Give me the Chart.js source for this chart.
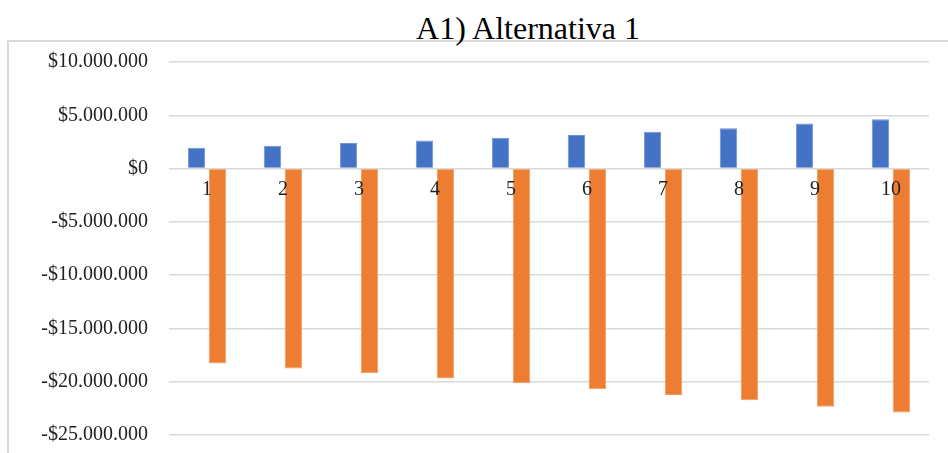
<!DOCTYPE html>
<html>
<head>
<meta charset="utf-8">
<script src="https://cdn.jsdelivr.net/npm/chart.js@4.4.1/dist/chart.umd.min.js"></script>
<style>
  body { margin: 0; background: #fff; overflow: hidden; width: 948px; height: 453px; position: relative; }
  #title {
    position: absolute; left: 0; top: 10px; width: 1056px;
    text-align: center; font: 32px "Liberation Serif", serif; color: #000;
  }
  #box {
    position: absolute; left: 7px; top: 40px; width: 1000px; height: 500px;
    border: 2px solid #d9d9d9;
  }
  #wrap { position: absolute; left: 0; top: 0; width: 948px; height: 468px; }
  canvas { display: block; }
</style>
</head>
<body>
<div id="box"></div>
<div id="title">A1) Alternativa 1</div>
<div id="wrap"><canvas id="chart"></canvas></div>
<script>
// Data
const periods = ['1', '2', '3', '4', '5', '6', '7', '8', '9', '10'];
const incomeValues = [1960000, 2140000, 2390000, 2640000, 2890000, 3140000, 3450000, 3790000, 4220000, 4630000];
const costValues = [-18300000, -18750000, -19200000, -19700000, -20150000, -20700000, -21250000, -21750000, -22350000, -22900000];
const yTicks = [10000000, 5000000, 0, -5000000, -10000000, -15000000, -20000000, -25000000];

const tickFont = { family: "'Liberation Serif', serif", size: 20 };

function formatMoney(v) {
    const s = Math.abs(v).toString().replace(/\B(?=(\d{3})+(?!\d))/g, '.');
    return (v < 0 ? '-$' : '$') + s;
}

const ctx = document.getElementById('chart').getContext('2d');
new Chart(ctx, {
    type: 'bar',
    data: {
        labels: periods,
        datasets: [
            { data: incomeValues, backgroundColor: '#4472c4', borderColor: '#6f93d6', borderWidth: 1,
              categoryPercentage: 0.553, barPercentage: 0.83 },
            { data: costValues, backgroundColor: '#ed7d31', borderColor: '#f29c63', borderWidth: 1,
              categoryPercentage: 0.553, barPercentage: 0.83 }
        ]
    },
    options: {
        responsive: true,
        maintainAspectRatio: false,
        animation: false,
        layout: { padding: { left: 0, right: 19, top: 62, bottom: 18 } },
        plugins: { legend: { display: false }, tooltip: { enabled: false } },
        scales: {
            x: {
                position: { y: 0 },
                grid: { display: false, drawTicks: false },
                border: { display: false },
                // z: 1 so the labels sit on top of the orange bars
                ticks: { color: '#222', font: tickFont, padding: 9, maxRotation: 0, z: 1 }
            },
            y: {
                min: -25000000,
                max: 10000000,
                afterBuildTicks: s => { s.ticks = yTicks.map(v => ({ value: v })); },
                afterFit: s => { s.width = 169; },
                grid: { color: '#d9d9d9', lineWidth: 1.5, drawTicks: false },
                border: { display: false },
                ticks: { color: '#222', font: tickFont, padding: 21, callback: v => formatMoney(v) }
            }
        }
    }
});
</script>
</body>
</html>
